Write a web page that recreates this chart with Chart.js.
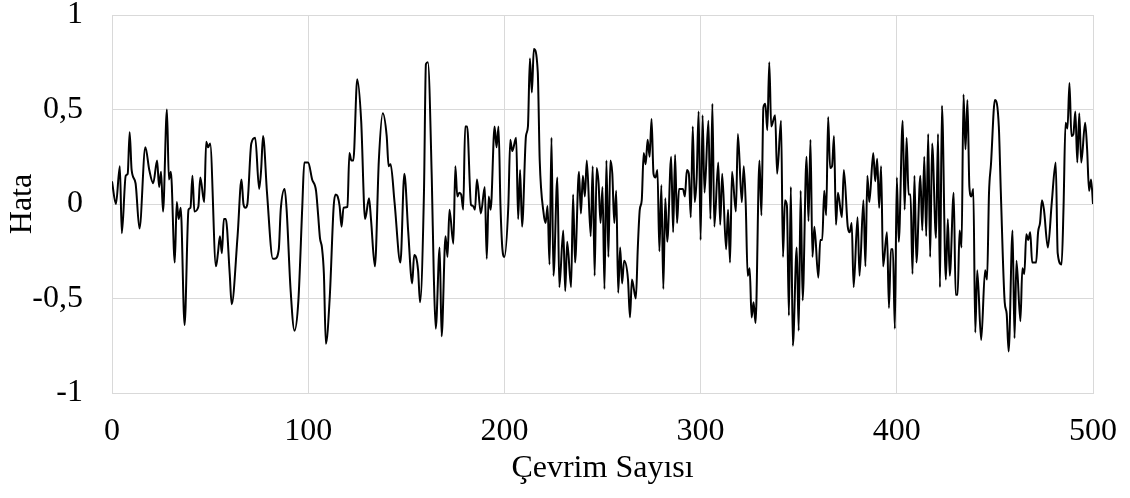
<!DOCTYPE html>
<html lang="tr">
<head>
<meta charset="utf-8">
<title>Hata - Çevrim Sayısı</title>
<script src="https://cdn.jsdelivr.net/npm/chart.js@4.4.1/dist/chart.umd.min.js"></script>
<style>
  html, body { margin: 0; padding: 0; background: #ffffff; }
  #wrap { width: 1130px; height: 498px; }
</style>
</head>
<body>
<div id="wrap"><canvas id="chart" width="1130" height="498"></canvas></div>
<script>
// Cycle numbers (x) and the error recorded at each of them (y)
const cycles = [
  0, 2, 4, 5, 7, 8, 9, 10, 12, 14, 17, 19, 21, 23, 24, 25, 26, 28, 29, 30,
  32, 33, 34, 35, 37, 39, 40, 41, 42, 44, 45, 47, 48, 49, 50, 53, 54, 55, 56, 57,
  58, 60, 61, 64, 66, 67, 68, 69, 71, 73, 75, 76, 77, 79, 82, 83, 85, 86, 88, 89,
  91, 93, 95, 97, 98, 100, 102, 104, 105, 106, 107, 108, 109, 111, 113, 114, 115, 116, 117, 118,
  120, 121, 122, 123, 125, 127, 129, 131, 132, 134, 136, 138, 140, 141, 142, 144, 147, 149, 151, 153,
  154, 156, 157, 159, 160, 161, 163, 164, 165, 167, 168, 170, 171, 172, 174, 175, 176, 177, 178, 179,
  180, 181, 183, 184, 185, 186, 188, 190, 191, 192, 193, 195, 196, 197, 198, 199, 200, 202, 203, 204,
  206, 207, 208, 209, 211, 212, 213, 214, 215, 217, 218, 220, 221, 222, 223, 224, 225, 227, 228, 230,
  231, 232, 234, 235, 236, 238, 239, 240, 241, 242, 244, 245, 246, 247, 248, 249, 250, 251, 252, 253,
  254, 255, 256, 257, 258, 259, 260, 261, 263, 264, 265, 267, 268, 269, 270, 271, 272, 273, 274, 275,
  276, 277, 278, 279, 280, 281, 282, 283, 285, 286, 287, 288, 289, 291, 292, 293, 294, 295, 296, 297,
  298, 299, 300, 301, 302, 304, 305, 306, 307, 309, 310, 311, 313, 314, 315, 316, 318, 319, 321, 322,
  323, 324, 325, 326, 327, 328, 330, 331, 332, 333, 334, 335, 336, 338, 339, 341, 342, 343, 344, 345,
  346, 347, 349, 350, 351, 352, 354, 355, 356, 357, 358, 360, 361, 362, 363, 364, 365, 366, 367, 368,
  369, 370, 372, 373, 375, 376, 377, 378, 380, 381, 383, 384, 385, 386, 388, 389, 390, 391, 392, 393,
  395, 396, 397, 398, 399, 400, 401, 403, 404, 405, 406, 407, 408, 409, 410, 412, 413, 414, 415, 416,
  417, 418, 420, 421, 422, 423, 425, 426, 427, 429, 430, 431, 432, 433, 434, 435, 436, 437, 438, 439,
  440, 441, 443, 445, 446, 447, 448, 450, 452, 453, 455, 456, 457, 459, 460, 461, 463, 464, 465, 466,
  467, 468, 469, 471, 472, 473, 474, 475, 477, 479, 481, 482, 484, 485, 486, 487, 488, 489, 490, 491,
  492, 493, 494, 496, 497, 498, 499, 500
];

const errors = [
  0.12, 0.0, 0.2, -0.155, 0.15, 0.16, 0.38, 0.18, 0.11, -0.13, 0.3, 0.18, 0.11, 0.23, 0.09, 0.17, -0.04, 0.5, 0.13, 0.17,
  -0.31, 0.01, -0.08, -0.02, -0.64, -0.03, -0.02, 0.15, -0.04, -0.015, 0.14, 0.01, 0.33, 0.3, 0.32, -0.33, -0.26, -0.17, -0.26, -0.08,
  -0.08, -0.37, -0.53, -0.17, 0.13, 0.0, -0.02, 0.0, 0.32, 0.35, 0.08, 0.18, 0.36, 0.06, -0.29, -0.29, -0.24, -0.03, 0.08, -0.03,
  -0.45, -0.67, -0.51, -0.01, 0.22, 0.22, 0.13, 0.07, -0.05, -0.18, -0.23, -0.37, -0.74, -0.49, -0.01, 0.05, 0.04, -0.01, -0.12, -0.02,
  -0.015, 0.27, 0.23, 0.23, 0.66, 0.44, -0.08, 0.03, -0.08, -0.33, 0.23, 0.48, 0.36, 0.2, 0.21, 0.01, -0.31, 0.16, -0.15, -0.42,
  -0.27, -0.35, -0.52, 0.06, 0.74, 0.75, 0.13, -0.37, -0.66, -0.23, -0.7, -0.17, -0.28, -0.03, -0.21, 0.2, 0.04, 0.06, 0.05, -0.03,
  0.41, 0.41, -0.005, -0.01, -0.03, 0.13, -0.05, 0.09, -0.29, 0.04, -0.03, 0.41, 0.3, 0.41, -0.01, -0.24, -0.28, -0.01, 0.34, 0.28,
  0.35, -0.08, 0.18, -0.12, 0.36, 0.41, 0.77, 0.59, 0.82, 0.7, 0.23, -0.05, -0.1, -0.01, -0.32, 0.35, -0.38, 0.14, -0.44, -0.14,
  -0.46, -0.2, -0.44, 0.05, -0.31, 0.17, -0.05, 0.15, 0.04, 0.23, -0.17, 0.2, -0.38, 0.19, 0.11, -0.1, 0.09, -0.45, 0.23, -0.28,
  0.23, 0.16, -0.1, 0.07, -0.47, -0.23, -0.42, -0.3, -0.4, -0.6, -0.4, -0.5, -0.23, -0.03, 0.02, 0.27, 0.21, 0.34, 0.25, 0.45,
  0.16, 0.14, 0.18, -0.25, 0.1, -0.45, 0.03, -0.2, 0.25, -0.15, 0.26, -0.1, 0.08, 0.08, 0.04, 0.18, 0.16, -0.07, 0.41, 0.01,
  0.14, 0.49, -0.19, 0.47, 0.06, 0.44, -0.08, 0.53, -0.12, 0.22, -0.11, 0.16, -0.24, -0.03, -0.31, 0.17, -0.04, 0.37, 0.01, 0.2,
  0.0, -0.38, -0.34, -0.6, -0.52, -0.63, 0.23, -0.06, 0.51, 0.53, 0.39, 0.75, 0.41, 0.47, 0.16, 0.44, -0.28, 0.02, -0.01, -0.59,
  0.09, -0.75, -0.23, -0.67, 0.07, -0.51, 0.25, -0.09, 0.34, -0.28, -0.12, -0.39, -0.19, -0.19, 0.07, -0.06, 0.46, 0.19, 0.2, 0.36,
  -0.11, 0.06, -0.07, 0.18, -0.12, -0.15, -0.1, -0.44, -0.07, -0.38, 0.02, -0.33, 0.15, 0.01, 0.27, 0.12, 0.24, -0.02, 0.2, -0.33,
  -0.15, -0.55, -0.24, -0.24, -0.66, 0.14, -0.2, 0.44, -0.03, 0.35, 0.05, 0.05, -0.37, 0.15, -0.31, 0.15, -0.14, 0.25, -0.17, 0.37,
  -0.28, 0.32, -0.18, 0.37, -0.44, 0.52, -0.4, -0.08, -0.38, 0.06, -0.48, -0.48, -0.14, -0.23, 0.58, 0.29, 0.55, 0.09, 0.04, 0.08,
  -0.68, -0.35, -0.72, -0.35, -0.4, 0.06, 0.21, 0.55, 0.41, 0.07, -0.52, -0.58, -0.78, -0.14, -0.71, -0.3, -0.62, -0.34, -0.37, -0.16,
  -0.19, -0.15, -0.31, -0.31, -0.15, -0.1, 0.02, -0.03, -0.23, 0.01, 0.22, -0.26, -0.32, -0.01, 0.43, 0.4, 0.64, 0.36, 0.37, 0.49,
  0.22, 0.48, 0.22, 0.43, 0.29, 0.07, 0.13, 0.0
];

// Axis tick positions
const xTicks = [0, 100, 200, 300, 400, 500];
const yTicks = [-1, -0.5, 0, 0.5, 1];

const points = cycles.map((c, i) => ({ x: c, y: errors[i] }));

const serif = "'Liberation Serif', 'Times New Roman', serif";
const gridColor = '#d9d9d9';
const commaDecimal = v => String(v).replace('.', ',');

new Chart(document.getElementById('chart'), {
  type: 'line',
  data: {
    datasets: [{
      label: 'Hata',
      data: points,
      borderColor: '#000000',
      borderWidth: 2,
      pointRadius: 0,
      fill: false,
      cubicInterpolationMode: 'monotone'
    }]
  },
  options: {
    responsive: false,
    animation: false,
    events: [],
    layout: { padding: { top: 15, right: 37, bottom: 0, left: 0 } },
    plugins: { legend: { display: false }, tooltip: { enabled: false } },
    scales: {
      x: {
        type: 'linear',
        min: 0,
        max: 500,
        afterBuildTicks: s => { s.ticks = xTicks.map(v => ({ value: v })); },
        afterFit: s => { s.height = 105; s.paddingLeft = 0; s.paddingRight = 0; },
        grid: { color: gridColor, lineWidth: 1, drawTicks: false },
        border: { color: gridColor, width: 1 },
        ticks: {
          color: '#000000',
          font: { family: serif, size: 32 },
          padding: 19,
          maxRotation: 0,
          callback: v => commaDecimal(v)
        },
        title: {
          display: true,
          text: 'Çevrim Sayısı',
          color: '#000000',
          font: { family: serif, size: 32 },
          padding: { top: 0, bottom: 10 }
        }
      },
      y: {
        min: -1,
        max: 1,
        afterBuildTicks: s => { s.ticks = yTicks.map(v => ({ value: v })); },
        afterFit: s => { s.width = 112; s.paddingTop = 0; s.paddingBottom = 0; },
        grid: { color: gridColor, lineWidth: 1, drawTicks: false },
        border: { color: gridColor, width: 1 },
        ticks: {
          color: '#000000',
          font: { family: serif, size: 32 },
          padding: 29,
          callback: v => commaDecimal(v)
        },
        title: {
          display: true,
          text: 'Hata',
          color: '#000000',
          font: { family: serif, size: 32 },
          padding: { top: 3, bottom: 0 }
        }
      }
    }
  }
});
</script>
</body>
</html>
